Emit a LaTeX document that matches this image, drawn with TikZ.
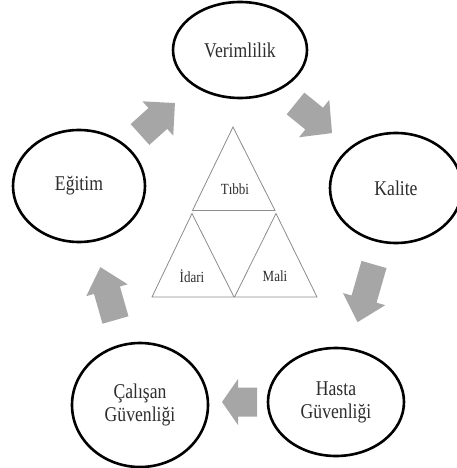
\documentclass[tikz,border=0pt]{standalone}
\usepackage{fontspec}
\setmainfont{Liberation Serif}
\newfontfamily\labelfont[FakeStretch=0.84]{Liberation Serif}
\usetikzlibrary{shapes.geometric}

\definecolor{arrowgray}{RGB}{166,166,166}
\definecolor{edgegray}{RGB}{140,140,140}
\definecolor{textgray}{RGB}{45,45,45}

% block arrow: tail centre, angle, total length, head length, shaft half-width, head half-width
\newcommand{\blockarrow}[6]{%
  \fill[arrowgray, shift={#1}, rotate=#2]
    (0,-#5) -- ({#3-#4},-#5) -- ({#3-#4},-#6) -- (#3,0)
    -- ({#3-#4},#6) -- ({#3-#4},#5) -- (0,#5) -- cycle;}

\tikzset{
  stage/.style={ellipse, draw=black, line width=2.6pt, fill=white, inner sep=0pt,
    align=center, text=textgray, font=\labelfont\fontsize{21}{23}\selectfont},
  part/.style={draw=edgegray, line width=0.8pt, fill=white, line join=miter},
  partlabel/.style={text=textgray, font=\labelfont\fontsize{15.5}{17}\selectfont, inner sep=0pt}
}

\begin{document}
\begin{tikzpicture}[x=1pt, y=-1pt]
  \useasboundingbox (0,0) rectangle (457,468);
  \fill[white] (0,0) rectangle (457,468);

  % stages of the cycle
  \node[stage, minimum width=134pt, minimum height=96pt]  (verim)  at (240,50)  {Verimlilik};
  \node[stage, minimum width=132pt, minimum height=110pt] (kalite) at (396,188) {Kalite};
  \node[stage, minimum width=136pt, minimum height=108pt] (hasta)  at (336,402) {Hasta\\Güvenliği};
  \node[stage, minimum width=136pt, minimum height=124pt] (calisan) at (140,405) {Çalışan\\Güvenliği};
  \node[stage, minimum width=132pt, minimum height=112pt] (egitim) at (79,186)  {Eğitim};

  % arrows running clockwise between the stages
  \blockarrow{(140,134.5)}{42}{47}{23}{14}{23}
  \blockarrow{(295.5,103.5)}{-39}{47}{23}{14}{24}
  \blockarrow{(374,264.5)}{-106}{60}{24}{13}{22}
  \blockarrow{(257,402)}{180}{35}{16}{14.5}{23}
  \blockarrow{(115.5,320)}{106}{55}{24}{13.5}{21.5}

  % central triangle split into three parts
  \draw[part] (233,127) -- (192.5,210.5) -- (275,210.5) -- cycle;
  \draw[part] (192,213.5) -- (152,297) -- (234,297) -- cycle;
  \draw[part] (276,213.5) -- (234.5,297) -- (317,297) -- cycle;

  \node[partlabel] (tibbi) at (235,189) {Tıbbi};
  \node[partlabel] (idari) at (192,276) {İdari};
  \node[partlabel] (mali)  at (275,276) {Mali};
\end{tikzpicture}
\end{document}
